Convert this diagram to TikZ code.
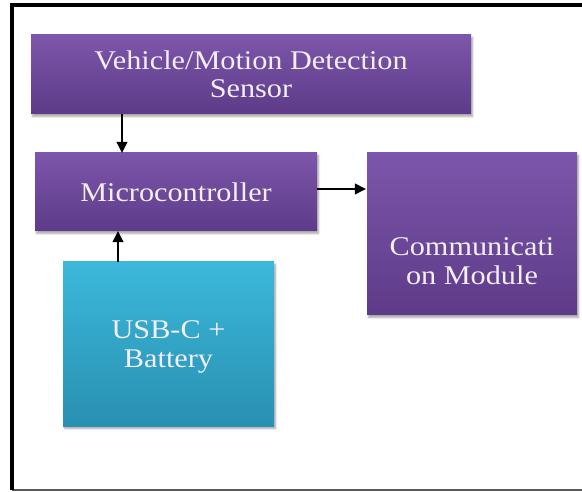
\documentclass[tikz,border=0pt]{standalone}
\usepackage{fontspec}
\setmainfont{Liberation Serif}[FakeStretch=1.12]
\usetikzlibrary{arrows.meta,shadows.blur}
\definecolor{purpletop}{HTML}{7C56AA}
\definecolor{purplebot}{HTML}{5E3B89}
\definecolor{cyantop}{HTML}{3CB8DA}
\definecolor{cyanbot}{HTML}{2990B2}
\definecolor{boxtext}{HTML}{F3EEF7}
\tikzset{
  blockbase/.style={rectangle, inner sep=0pt, align=center, text=boxtext,
    font=\fontsize{27}{28}\selectfont,
    blur shadow={shadow xshift=1.5pt, shadow yshift=-2.5pt, shadow blur steps=6, shadow opacity=35}},
  pbox/.style={blockbase, top color=purpletop, bottom color=purplebot},
  cbox/.style={blockbase, top color=cyantop, bottom color=cyanbot},
  txt/.style={inner sep=0pt, align=center, text=boxtext, font=\fontsize{27}{29}\selectfont},
  arr/.style={line width=1.3pt, -{Triangle[length=11pt,width=11pt]}},
}
\begin{document}
\begin{tikzpicture}[x=1pt,y=-1pt]
\useasboundingbox (0,0) rectangle (582,492);
% frame
\draw[line width=2pt, gray!70!black] (12,490) -- (582,490);
\draw[line width=4pt, black] (12,490) -- (12,5) -- (582,5);
% blocks
\node[pbox, minimum width=440pt, minimum height=79pt] (sensor) at (251,74.5)
  {Vehicle/Motion Detection\\Sensor};
\node[pbox, minimum width=282pt, minimum height=78pt] (micro) at (176,192)
  {Microcontroller};
\node[pbox, minimum width=210pt, minimum height=162pt] (comm) at (472,234) {};
\node[txt] (commtext) at (472,261) {Communicati\\on Module};
\node[cbox, minimum width=211pt, minimum height=164pt] (usb) at (168.5,344) {};
\node[txt] (usbtext) at (168.5,347) {USB-C +\\Battery};
% connectors
\draw[arr] ([xshift=-129pt]sensor.south) -- ([xshift=-54pt]micro.north);
\draw[arr] ([xshift=-50.5pt]usb.north) -- ([xshift=-58pt]micro.south);
\draw[arr] ([yshift=3pt]micro.east) -- ([yshift=45pt,xshift=-1pt]comm.west);
\end{tikzpicture}
\end{document}
